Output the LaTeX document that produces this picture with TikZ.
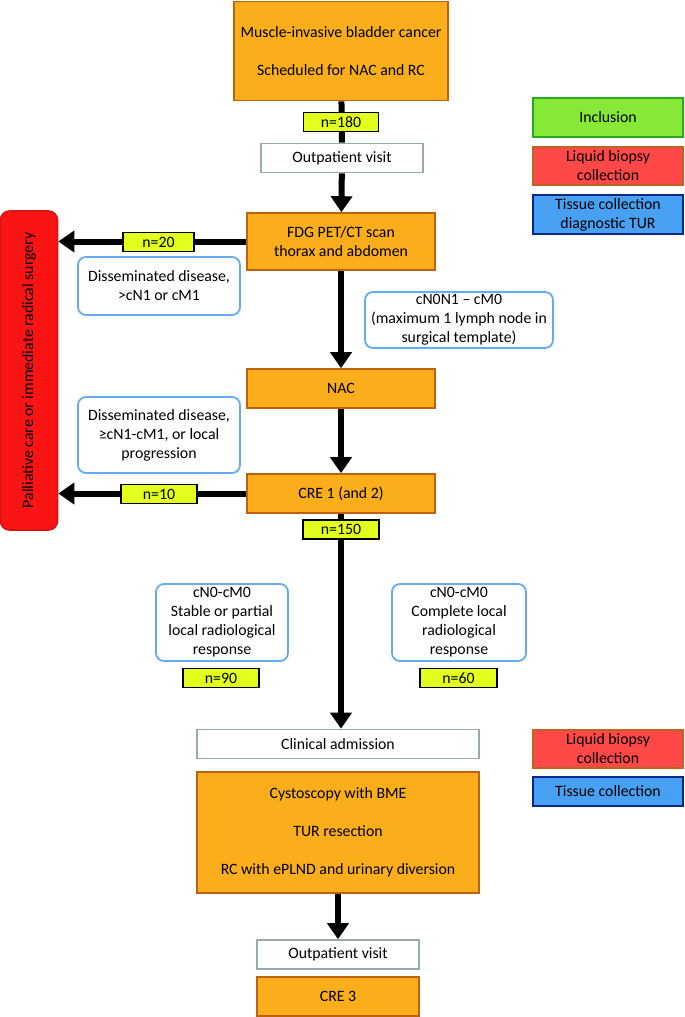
\documentclass[tikz,border=0pt]{standalone}
\usepackage{fontspec}
\setmainfont{Carlito}
\usetikzlibrary{arrows.meta,backgrounds}

\definecolor{procfill}{RGB}{250,174,28}
\definecolor{procline}{RGB}{190,98,18}
\definecolor{countfill}{RGB}{226,255,30}
\definecolor{visitline}{RGB}{150,172,172}
\definecolor{critline}{RGB}{100,172,240}
\definecolor{palfill}{RGB}{250,20,20}
\definecolor{palline}{RGB}{215,20,20}
\definecolor{inclfill}{RGB}{135,232,55}
\definecolor{inclline}{RGB}{40,170,30}
\definecolor{liqfill}{RGB}{255,72,72}
\definecolor{liqline}{RGB}{190,100,30}
\definecolor{tisfill}{RGB}{72,160,242}
\definecolor{tisline}{RGB}{10,40,140}

\tikzset{
  base/.style={font=\fontsize{15.8}{19}\selectfont, align=center, inner sep=0pt},
  proc/.style={base, draw=procline, fill=procfill, line width=1.6pt},
  count/.style={base, draw=black, fill=countfill, line width=1.6pt, minimum height=19pt},
  visit/.style={base, draw=visitline, fill=white, line width=1.6pt, minimum width=162pt, minimum height=29pt},
  crit/.style={base, draw=critline, fill=white, line width=1.8pt, rounded corners=8pt},
  legbox/.style={base, line width=1.8pt, minimum width=150pt},
  flowline/.style={line width=6pt},
  flow/.style={flowline, -{Triangle[length=16pt,width=21pt]}},
}

\begin{document}
\begin{tikzpicture}[x=1pt,y=-1pt]
\useasboundingbox (0,0) rectangle (685,1017);

% main path
\node[proc, minimum width=214pt, minimum height=99pt] (mibc) at (341,51)
  {Muscle-invasive bladder cancer\\[19pt]Scheduled for NAC and RC};
\node[count, minimum width=75pt] (n180) at (341,122) {n=180};
\node[visit] (visit1) at (342,158) {Outpatient visit};
\node[proc, minimum width=188pt, minimum height=57pt] (pet) at (341,241.5)
  {FDG PET/CT scan\\thorax and abdomen};
\node[proc, minimum width=188pt, minimum height=39pt] (nac) at (341,388.5) {NAC};
\node[proc, minimum width=188pt, minimum height=39pt] (cre1) at (341,493.5) {CRE 1 (and 2)};
\node[count, minimum width=76pt] (n150) at (341,529.5) {n=150};
\node[visit, minimum width=282pt] (admit) at (338,744) {Clinical admission};
\node[proc, minimum width=282pt, minimum height=121pt] (surgery) at (338,832.5)
  {Cystoscopy with BME\\[19pt]TUR resection\\[19pt]RC with ePLND and urinary diversion};
\node[visit] (visit2) at (338,954.5) {Outpatient visit};
\node[proc, minimum width=162pt, minimum height=39pt] (cre3) at (338,996.5) {CRE 3};

% exit to the left
\node[base, draw=palline, fill=palfill, line width=1.6pt, rounded corners=9pt,
  rotate=90, minimum width=319pt, minimum height=57pt] (palliative) at (29,370.5)
  {Palliative care or immediate radical surgery};
\node[count, minimum width=71pt] (n20) at (158.5,242) {n=20};
\node[count, minimum width=76pt] (n10) at (159,494) {n=10};

% criteria
\node[crit, minimum width=162pt, minimum height=58pt] (dis1) at (159,286)
  {Disseminated disease,\\>cN1 or cM1};
\node[crit, minimum width=188pt, minimum height=56pt] (regional) at (459,320)
  {cN0N1 – cM0\\(maximum 1 lymph node in\\surgical template)};
\node[crit, minimum width=162pt, minimum height=76pt] (dis2) at (159,435)
  {Disseminated disease,\\≥cN1-cM1, or local\\progression};
\node[crit, minimum width=132pt, minimum height=77pt] (stable) at (222,622.5)
  {cN0-cM0\\Stable or partial\\local radiological\\response};
\node[count, minimum width=76pt] (n90) at (221,678) {n=90};
\node[crit, minimum width=134pt, minimum height=77pt] (complete) at (459,622.5)
  {cN0-cM0\\Complete local\\radiological\\response};
\node[count, minimum width=77pt] (n60) at (458.5,678) {n=60};

% legends
\node[legbox, draw=inclline, fill=inclfill, minimum height=39pt] (incl) at (608,117.5) {Inclusion};
\node[legbox, draw=liqline, fill=liqfill, minimum height=38pt] (liquid1) at (608,166) {Liquid biopsy\\collection};
\node[legbox, draw=tisline, fill=tisfill, minimum height=39pt] (tissue1) at (608,214.5) {Tissue collection\\diagnostic TUR};
\node[legbox, draw=liqline, fill=liqfill, minimum height=38pt] (liquid2) at (608,749) {Liquid biopsy\\collection};
\node[legbox, draw=tisline, fill=tisfill, minimum height=29pt] (tissue2) at (608,791.5) {Tissue collection};

\begin{pgfonlayer}{background}
\draw[flowline] (mibc) -- (visit1);
\draw[flow] (visit1) -- (pet);
\draw[flow] (pet) -- (nac);
\draw[flow] (nac) -- (cre1);
\draw[flow] (cre1.south) -- (cre1.south |- admit.north);
\draw[flow] (surgery) -- (visit2);
\draw[flow] (pet.west) -- (pet.west -| palliative.south);
\draw[flow] (cre1.west) -- (cre1.west -| palliative.south);
\end{pgfonlayer}

\end{tikzpicture}
\end{document}
